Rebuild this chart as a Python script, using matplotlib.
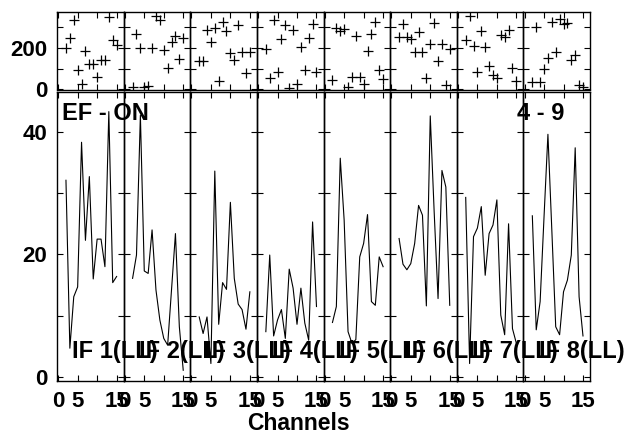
import matplotlib
matplotlib.use('Agg')
import matplotlib.pyplot as plt

plt.rcParams['font.family'] = ['Liberation Sans', 'DejaVu Sans']
plt.rcParams['font.weight'] = 'bold'

# channel numbers on the x axis
channels = [2, 3, 4, 5, 6, 7, 8, 9, 10, 11, 12, 13, 14, 15]

# upper strip (crosses), one list per IF
top_if1 = [201, 247, 332, 92, 27, 186, 121, 121, 57, 142, 142, 348, 239, 214]
top_if2 = [9, 266, 197, 11, 14, 197, 354, 332, 190, 102, 227, 259, 146, 247]
top_if3 = [137, 137, 284, 226, 293, 42, 322, 280, 177, 141, 308, 181, 80, 181]
top_if4 = [194, 55, 332, 81, 242, 308, 6, 284, 25, 205, 92, 245, 316, 81]
top_if5 = [44, 293, 280, 290, 9, 60, 258, 60, 27, 186, 266, 324, 94, 49]
top_if6 = [250, 314, 250, 242, 179, 277, 179, 54, 218, 321, 137, 218, 20, 192]
top_if7 = [239, 351, 210, 84, 282, 206, 112, 70, 54, 261, 252, 284, 102, 40]
top_if8 = [36, 300, 35, 97, 153, 324, 181, 338, 314, 319, 142, 163, 20, 11]

# lower panels (lines), one list per IF
bot_if1 = [32.1, 4.7, 13.1, 14.7, 38.3, 22.3, 32.7, 16.0, 22.5, 22.5, 18.0, 43.3, 15.4, 16.4]
bot_if2 = [16.1, 19.9, 42.7, 17.3, 16.9, 24.0, 14.2, 9.3, 6.3, 5.2, 14.3, 23.4, 8.2, 1.1]
bot_if3 = [9.8, 7.1, 9.8, 2.2, 33.6, 8.6, 15.4, 14.3, 28.5, 16.1, 11.9, 11.0, 7.8, 13.9]
bot_if4 = [7.4, 19.9, 6.7, 9.3, 11.0, 6.3, 17.6, 14.5, 8.6, 14.5, 8.8, 6.0, 25.3, 11.5]
bot_if5 = [8.9, 11.5, 35.7, 25.6, 7.4, 5.5, 6.1, 19.6, 21.8, 26.5, 12.3, 11.7, 19.6, 18.0]
bot_if6 = [22.6, 18.4, 17.5, 18.5, 21.8, 28.0, 26.4, 11.6, 42.6, 27.0, 12.8, 33.7, 31.0, 11.7]
bot_if7 = [29.3, 2.2, 22.9, 24.3, 27.8, 16.6, 23.4, 24.8, 28.9, 10.1, 6.9, 25.0, 7.9, 5.5]
bot_if8 = [26.3, 7.7, 12.3, 26.1, 39.6, 24.0, 8.2, 6.9, 13.9, 15.8, 19.9, 37.4, 13.1, 6.7]

if_labels = ['IF 1(LL)', 'IF 2(LL)', 'IF 3(LL)', 'IF 4(LL)',
             'IF 5(LL)', 'IF 6(LL)', 'IF 7(LL)', 'IF 8(LL)']
top_data = [top_if1, top_if2, top_if3, top_if4, top_if5, top_if6, top_if7, top_if8]
bot_data = [bot_if1, bot_if2, bot_if3, bot_if4, bot_if5, bot_if6, bot_if7, bot_if8]

W, H = 628, 434
fig = plt.figure(figsize=(W / 100, H / 100), dpi=100)

x0, x1 = 57, 590
pw = (x1 - x0) / 8
fs = 16


def style(ax):
    ax.set_facecolor('none')
    ax.tick_params(direction='in', top=True, right=True, length=4.5,
                   width=0.8, labelsize=fs, pad=7)
    for s in ax.spines.values():
        s.set_linewidth(1.0)
    ax.set_xlim(-0.3, 16.8)
    ax.set_xticks([0, 5, 10, 15])


for i in range(8):
    left = (x0 + i * pw) / W
    # upper strip
    ax_t = fig.add_axes([left, 1 - 89.5 / H, pw / W, 77.5 / H])
    ax_t.plot(channels, top_data[i], '+', color='black', ms=7, mew=0.9)
    style(ax_t)
    ax_t.set_ylim(-1, 372.5)
    ax_t.set_yticks([0, 100, 200, 300])
    ax_t.set_xticklabels([])
    if i == 0:
        ax_t.set_yticklabels(['0', '', '200', ''])
    else:
        ax_t.set_yticklabels([])

    # lower panel
    ax_b = fig.add_axes([left, 1 - 381 / H, pw / W, 289 / H])
    ax_b.plot(channels, bot_data[i], color='black', lw=0.8)
    style(ax_b)
    ax_b.set_ylim(-0.65, 46.5)
    ax_b.set_yticks([0, 10, 20, 30, 40])
    ax_b.set_xticklabels(['0', '5', '', '15'])
    if i == 0:
        ax_b.set_yticklabels(['0', '', '20', '', '40'])
    else:
        ax_b.set_yticklabels([])
    ax_b.text(3.6, 3.1, if_labels[i], fontsize=17, fontweight='bold',
              va='baseline', ha='left', clip_on=False, zorder=5)

fig.text(62 / W, 1 - 120 / H, 'EF - ON', fontsize=17, fontweight='bold', va='baseline')
fig.text(564 / W, 1 - 120 / H, '4 - 9', fontsize=17, fontweight='bold',
         va='baseline', ha='right')
fig.text(298.5 / W, 1 - 430 / H, 'Channels', fontsize=16.5, fontweight='bold',
         va='baseline', ha='center')

fig.savefig('out.png', dpi=100)
